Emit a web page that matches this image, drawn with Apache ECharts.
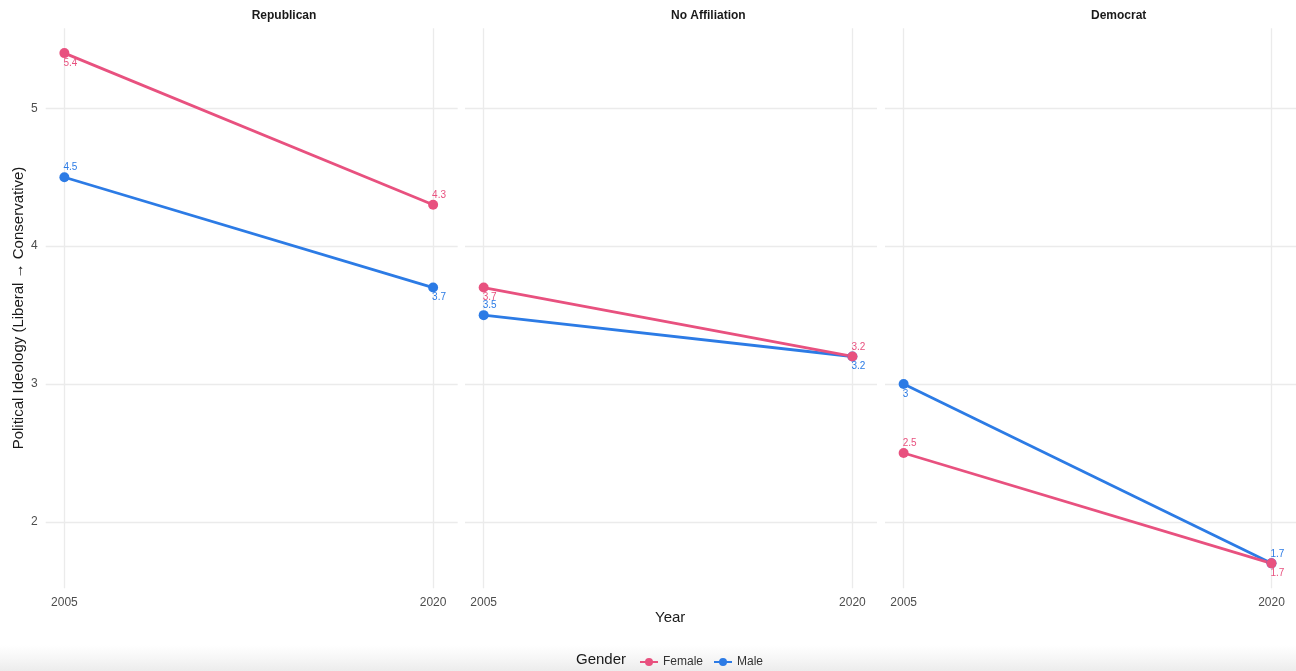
<!DOCTYPE html>
<html>
<head>
<meta charset="utf-8">
<script src="https://cdn.jsdelivr.net/npm/echarts@6/dist/echarts.min.js"></script>
<style>
html,body{margin:0;padding:0;background:#fff;}
#chart{width:1296px;height:671px;}
</style>
</head>
<body>
<div id="chart"></div>
<script>
// ---- data ----
const years = [2005, 2020];
const parties = ['Republican', 'No Affiliation', 'Democrat'];
const femaleValues = [[5.4, 4.3], [3.7, 3.2], [2.5, 1.7]];
const maleValues = [[4.5, 3.7], [3.5, 3.2], [3.0, 1.7]];
const yTicks = [2, 3, 4, 5];
const xTicks = [2005, 2020];

// ---- label placement (style) ----
const femaleSide = [['below', 'above'], ['below', 'above'], ['above', 'below']];
const maleSide = [['above', 'below'], ['above', 'below'], ['below', 'above']];

const FEMALE = '#E8517F';
const MALE = '#2C7BE5';
const FONT = '"Liberation Sans", Arial, Helvetica, sans-serif';

const panelLefts = [45.7, 465, 885];
const panelWidth = 412;
const gridTop = 28.3, gridHeight = 560;

const chart = echarts.init(document.getElementById('chart'), null, {renderer: 'canvas'});

const grids = [], xAxes = [], yAxes = [], series = [], graphics = [];

parties.forEach((p, i) => {
  grids.push({left: panelLefts[i], top: gridTop, width: panelWidth, height: gridHeight});
  xAxes.push({
    type: 'value', gridIndex: i, min: 2004.24, max: 2021,
    axisLine: {show: false},
    axisTick: {show: false, customValues: xTicks},
    axisLabel: {customValues: xTicks, color: '#4d4d4d', fontSize: 12, fontFamily: FONT, margin: 8,
      formatter: v => String(v)},
    splitLine: {show: true, lineStyle: {color: '#EBEBEB', width: 1.3}}
  });
  yAxes.push({
    type: 'value', gridIndex: i, min: 1.519, max: 5.58,
    axisLine: {show: false},
    axisTick: {show: false, customValues: yTicks},
    axisLabel: {show: i === 0, customValues: yTicks, color: '#4d4d4d', fontSize: 12, fontFamily: FONT, margin: 8,
      formatter: v => String(v)},
    splitLine: {show: true, lineStyle: {color: '#EBEBEB', width: 1.3}}
  });
  graphics.push({
    type: 'text', left: panelLefts[i] + panelWidth / 2, top: 10,
    style: {text: p, font: 'bold 12px ' + FONT, fill: '#1a1a1a', align: 'center', verticalAlign: 'top'}
  });
});

function makeSeries(name, vals, sides, color, i) {
  return {
    name: name, type: 'line', xAxisIndex: i, yAxisIndex: i,
    data: years.map((y, k) => ({
      value: [y, vals[i][k]],
      label: {offset: sides[i][k] === 'above' ? [-1, -9.5] : [-1, 10]}
    })),
    symbol: 'circle', symbolSize: 10,
    lineStyle: {color: color, width: 2.8},
    itemStyle: {color: color},
    label: {
      show: true, position: 'inside', align: 'left', verticalAlign: 'middle',
      color: color, fontSize: 10, fontFamily: FONT,
      formatter: pr => String(pr.value[1])
    },
    emphasis: {disabled: true},
    animation: false
  };
}

parties.forEach((p, i) => {
  series.push(makeSeries('Male', maleValues, maleSide, MALE, i));
});
parties.forEach((p, i) => {
  series.push(makeSeries('Female', femaleValues, femaleSide, FEMALE, i));
});

// bottom shade
graphics.push({
  type: 'rect', left: 0, top: 645, z: -10,
  shape: {width: 1296, height: 26},
  style: {fill: new echarts.graphic.LinearGradient(0, 0, 0, 1, [
    {offset: 0, color: 'rgba(240,240,240,0)'},
    {offset: 1, color: '#ececec'}
  ])}
});
// axis titles
graphics.push({
  type: 'text', left: 655, top: 610,
  style: {text: 'Year', font: '15px ' + FONT, fill: '#1a1a1a'}
});
graphics.push({
  type: 'text', x: 19, y: 308, rotation: Math.PI / 2,
  style: {text: 'Political Ideology (Liberal \u2192 Conservative)', font: '15px ' + FONT, fill: '#1a1a1a',
    align: 'center', verticalAlign: 'middle'}
});
graphics.push({
  type: 'text', left: 576, top: 652,
  style: {text: 'Gender', font: '15px ' + FONT, fill: '#1a1a1a'}
});

chart.setOption({
  backgroundColor: '#ffffff',
  animation: false,
  grid: grids,
  xAxis: xAxes,
  yAxis: yAxes,
  series: series,
  legend: {
    data: ['Female', 'Male'], left: 634, top: 651,
    itemWidth: 18, itemHeight: 10, itemGap: 10,
    textStyle: {fontSize: 12, fontFamily: FONT, color: '#333'},
    selectedMode: false
  },
  graphic: graphics
});
</script>
</body>
</html>
